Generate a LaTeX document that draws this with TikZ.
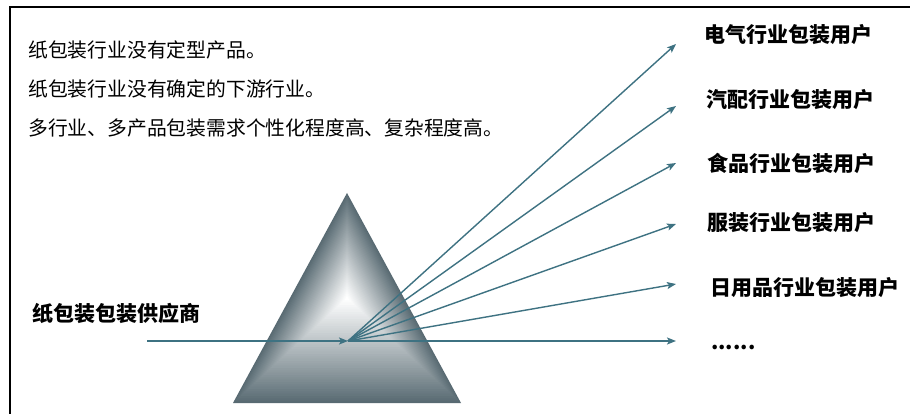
\documentclass[tikz,border=0pt]{standalone}
\usepackage{fontspec}
\setmainfont{Noto Sans CJK SC}
\usetikzlibrary{arrows.meta}
\definecolor{raycol}{RGB}{62,114,130}
\definecolor{prismedge}{RGB}{88,106,114}

\begin{document}
\begin{tikzpicture}[x=1pt,y=-1pt,
	ray/.style={
		draw=raycol,
		line width=1.4pt,
		-{Stealth[length=9pt,width=7pt,inset=2pt]}
	},
	note/.style={anchor=west, inner sep=0pt, font=\fontsize{19.8}{20}\selectfont},
	user/.style={anchor=west, inner sep=0pt, font=\fontsize{21}{22}\selectfont\bfseries}]

	\useasboundingbox (0,0) rectangle (910,414);
	\fill[white] (0,0) rectangle (910,414);
	\draw[line width=2pt] (10,414) -- (10,7) -- (910,7);

	% prism: concentric triangles shrinking to the centre of its box
	\foreach \i in {0,...,44}{
		\pgfmathsetmacro{\s}{1-\i/45}
		\pgfmathsetmacro{\p}{100*(\i/44)^0.95}
		\fill[white!\p!prismedge, shift={(347,298)}, scale=\s]
			(0,-105) -- (114,105) -- (-114,105) -- cycle;
	}

	\node[note] (n1) at (28,50) {纸包装行业没有定型产品。};
	\node[note] (n2) at (28,89) {纸包装行业没有确定的下游行业。};
	\node[note] (n3) at (28,128) {多行业、多产品包装需求个性化程度高、复杂程度高。};

	\node[user] (sup) at (32,313) {纸包装包装供应商};

	\node[user] (u1) at (704,35) {电气行业包装用户};
	\node[user] (u2) at (706,100) {汽配行业包装用户};
	\node[user] (u3) at (707,163) {食品行业包装用户};
	\node[user] (u4) at (707,223) {服装行业包装用户};
	\node[user] (u5) at (710,288) {日用品行业包装用户};
	\node[user, anchor=base west] (u6) at (711,349) {......};

	\coordinate (src) at (147,341);
	\coordinate (hub) at (348,341);
	\coordinate (t1) at (676,44);
	\coordinate (t2) at (676,106);
	\coordinate (t3) at (676,163);
	\coordinate (t4) at (676,224);
	\coordinate (t5) at (676,284);
	\coordinate (t6) at (676,341);

	\draw[ray] (src) -- (hub);
	\foreach \k in {1,...,6}
		\draw[ray] (hub) -- (t\k);
\end{tikzpicture}
\end{document}
